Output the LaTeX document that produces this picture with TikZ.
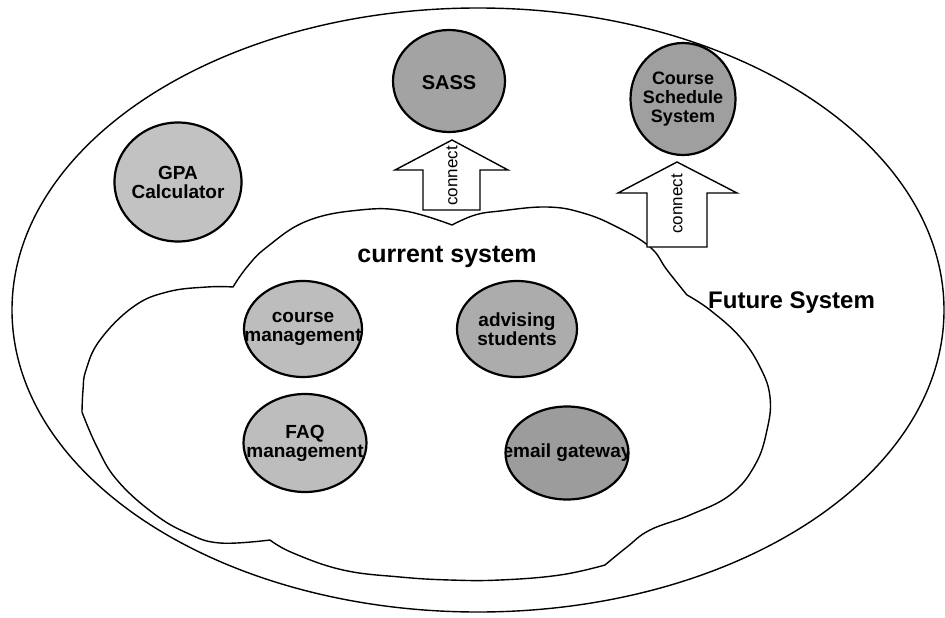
\documentclass[tikz,border=0pt]{standalone}
\usepackage{fontspec}
\setmainfont{Liberation Sans}
\usetikzlibrary{shapes.geometric}
\begin{document}
\begin{tikzpicture}[x=1pt,y=-1pt,
  outline/.style={line width=1.4pt},
  sysbub/.style={ellipse, draw, line width=2.2pt, inner sep=0pt},
  inlbl/.style={shape=rectangle, draw=none, fill=none, inner sep=0pt, minimum width=0pt, minimum height=0pt, align=center, font=\bfseries\fontsize{19}{19}\selectfont},
  blockarrow/.style={line width=1.4pt, fill=white, line join=miter},
  arrowlbl/.style={rotate=90, font=\fontsize{17}{17}\selectfont, inner sep=0pt}]
\useasboundingbox (0,0) rectangle (945,618);
\fill[white] (0,0) rectangle (945,618);

% Future system (big ellipse)
\node[ellipse, draw, outline, minimum width=932, minimum height=604, inner sep=0pt] (future) at (478,310) {};
\node[anchor=base west, font=\bfseries\fontsize{24}{24}\selectfont, inner sep=0pt] (futurelbl) at (708,308) {Future System};

% current system (cloud)
\draw[outline, line join=round]
  plot[smooth, tension=0.7] coordinates {(233,287) (247,267) (267,247) (307,221) (360,210) (405,211) (452,225)}
  -- plot[smooth, tension=0.7] coordinates {(452,225) (475,215) (500,211) (547,207) (583,213) (617,227) (650,247) (667,270) (687,295)}
  -- plot[smooth, tension=0.7] coordinates {(687,295) (710,310) (740,337) (760,367) (770,397) (767,430) (755,465) (730,495) (690,515) (650,530) (627,547) (605,565)}
  -- plot[smooth, tension=0.7] coordinates {(605,565) (560,575) (500,580) (450,580) (400,577) (343,570) (293,553) (270,540)}
  -- plot[smooth, tension=0.7] coordinates {(270,540) (220,543) (187,533) (153,513) (117,480) (97,447) (82,412)}
  -- plot[smooth, tension=0.7] coordinates {(82,412) (83,390) (86,370) (100,340) (133,307) (167,292) (207,287) (233,287)} -- cycle;
\node[anchor=base, font=\bfseries\fontsize{25}{25}\selectfont, inner sep=0pt] (curlbl) at (447,262) {current system};

% system bubbles
\node[sysbub, fill=gray!72, minimum width=112, minimum height=102,
  path picture={\node[inlbl, font=\bfseries\fontsize{20}{20}\selectfont] at ([yshift=-2pt]path picture bounding box.center) {SASS};}] (sass) at (449,81) {};
\node[sysbub, fill=gray!75, minimum width=105, minimum height=112,
  path picture={\node[inlbl, font=\bfseries\fontsize{18}{19}\selectfont] at (path picture bounding box.center) {Course\\Schedule\\System};}] (css) at (683,99) {};
\node[sysbub, fill=gray!48, minimum width=127, minimum height=119,
  path picture={\node[inlbl] at (path picture bounding box.center) {GPA\\Calculator};}] (gpa) at (178,182) {};
\node[sysbub, fill=gray!52, minimum width=118, minimum height=96,
  path picture={\node[inlbl] at (path picture bounding box.center) {course\\management};}] (cm) at (303,329) {};
\node[sysbub, fill=gray!65, minimum width=120, minimum height=96,
  path picture={\node[inlbl] at (path picture bounding box.center) {advising\\students};}] (adv) at (517,329) {};
\node[sysbub, fill=gray!52, minimum width=123, minimum height=98,
  path picture={\node[inlbl] at (path picture bounding box.center) {FAQ\\management};}] (faq) at (305,443) {};
\node[sysbub, fill=gray!78, minimum width=123, minimum height=93,
  path picture={\node[inlbl] at (path picture bounding box.center) {email gateway};}] (email) at (567,453) {};

% connect arrows
\draw[blockarrow] (423,210) -- (423,170) -- (395,170) -- (452,140) -- (508,170) -- (480,170) -- (480,210) -- cycle;
\node[arrowlbl] (conn1) at (452,176) {connect};
\draw[blockarrow] (647,247) -- (647,193) -- (618,193) -- (677,162) -- (737,193) -- (707,193) -- (707,247) -- cycle;
\node[arrowlbl] (conn2) at (677,204) {connect};
\end{tikzpicture}
\end{document}
